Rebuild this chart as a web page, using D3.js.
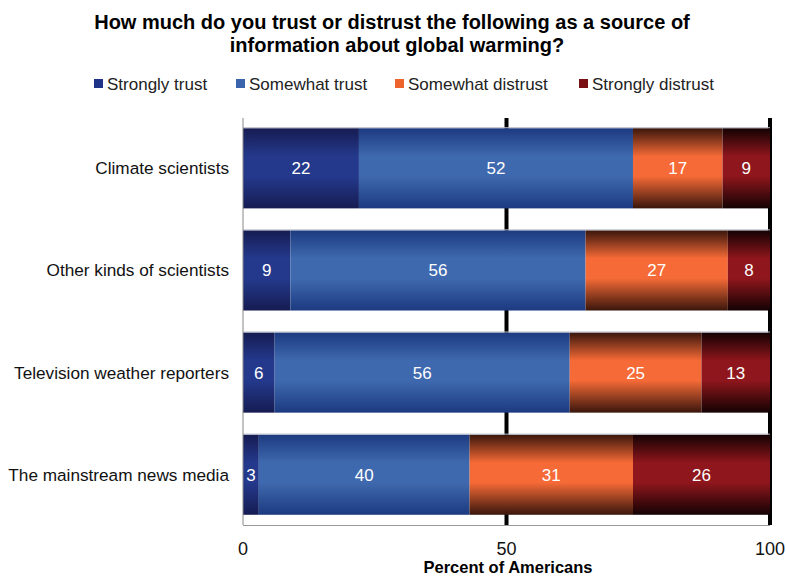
<!DOCTYPE html>
<html>
<head>
<meta charset="utf-8">
<script src="https://cdn.jsdelivr.net/npm/d3@7"></script>
<style>
  body { margin: 0; background: #fff; }
  svg { font-family: "Liberation Sans", Arial, sans-serif; }
</style>
</head>
<body>
<div id="chart-container"></div>
<script>
// chart data
const categories = ["Climate scientists", "Other kinds of scientists", "Television weather reporters", "The mainstream news media"];
const seriesNames = ["Strongly trust", "Somewhat trust", "Somewhat distrust", "Strongly distrust"];
const stronglyTrust = [22, 9, 6, 3];
const somewhatTrust = [52, 56, 56, 40];
const somewhatDistrust = [17, 27, 25, 31];
const stronglyDistrust = [9, 8, 13, 26];
const xTicks = [0, 50, 100];

const width = 786, height = 578;
const margin = { top: 118, right: 16, bottom: 53, left: 243 };
const innerW = 770 - margin.left;
const innerH = 525 - margin.top;

const svg = d3.select("#chart-container")
    .append("svg")
    .attr("width", width)
    .attr("height", height);

// gradients: dark edges, lighter centre
const grads = [
    { id: "g0", edge: "#161c52", mid: "#24398c" },
    { id: "g1", edge: "#1c3a80", mid: "#3f69ae" },
    { id: "g2", edge: "#3a160c", mid: "#f56a36" },
    { id: "g3", edge: "#140203", mid: "#8e161c" }
];
const defs = svg.append("defs");
grads.forEach(g => {
    const lg = defs.append("linearGradient")
        .attr("id", g.id).attr("x1", 0).attr("y1", 0).attr("x2", 0).attr("y2", 1);
    lg.append("stop").attr("offset", "0%").attr("stop-color", g.edge);
    lg.append("stop").attr("offset", "35%").attr("stop-color", g.mid);
    lg.append("stop").attr("offset", "60%").attr("stop-color", g.mid);
    lg.append("stop").attr("offset", "100%").attr("stop-color", g.edge);
});
const legendColors = ["#1f3388", "#3a64ab", "#ec642c", "#7a0f14"];

// title
svg.append("text")
    .attr("x", 392).attr("y", 29)
    .attr("text-anchor", "middle")
    .attr("font-size", 20).attr("font-weight", "bold")
    .text("How much do you trust or distrust the following as a source of");
svg.append("text")
    .attr("x", 397).attr("y", 52)
    .attr("text-anchor", "middle")
    .attr("font-size", 20).attr("font-weight", "bold")
    .text("information about global warming?");

// legend
const legendX = [94, 236, 395, 579];
const legend = svg.append("g");
seriesNames.forEach((name, i) => {
    legend.append("rect")
        .attr("x", legendX[i]).attr("y", 79)
        .attr("width", 9).attr("height", 9)
        .attr("fill", legendColors[i]);
    legend.append("text")
        .attr("x", legendX[i] + 13).attr("y", 90)
        .attr("font-size", 17).attr("fill", "#222")
        .text(name);
});

const g = svg.append("g")
    .attr("transform", `translate(${margin.left},${margin.top})`);

const x = d3.scaleLinear().domain([0, 100]).range([0, innerW]);
const y = d3.scaleBand().domain(categories).range([0, innerH]).paddingInner(0.215).paddingOuter(0.1);

// black gridlines at 50 and 100 (behind bars)
g.append("g").selectAll("line")
    .data([50, 100])
    .join("line")
    .attr("x1", d => x(d)).attr("x2", d => x(d))
    .attr("y1", 0).attr("y2", innerH)
    .attr("stroke", "#000").attr("stroke-width", 4);

// stack the series
const rows = categories.map((c, i) => ({
    category: c,
    "Strongly trust": stronglyTrust[i],
    "Somewhat trust": somewhatTrust[i],
    "Somewhat distrust": somewhatDistrust[i],
    "Strongly distrust": stronglyDistrust[i]
}));
const stacked = d3.stack().keys(seriesNames)(rows);

// bars
stacked.forEach((layer, li) => {
    g.append("g").selectAll("rect")
        .data(layer)
        .join("rect")
        .attr("x", d => x(d[0]))
        .attr("y", d => y(d.data.category))
        .attr("width", d => x(d[1]) - x(d[0]))
        .attr("height", y.bandwidth())
        .attr("fill", `url(#${grads[li].id})`);
});

// thin light line above each bar
g.append("g").selectAll("line")
    .data(categories)
    .join("line")
    .attr("x1", 0).attr("x2", x(100))
    .attr("y1", d => y(d) - 0.5).attr("y2", d => y(d) - 0.5)
    .attr("stroke", "#b8bcc8").attr("stroke-width", 1);

// value labels
stacked.forEach(layer => {
    g.append("g").selectAll("text")
        .data(layer)
        .join("text")
        .attr("x", d => (x(d[0]) + x(d[1])) / 2)
        .attr("y", d => y(d.data.category) + y.bandwidth() / 2 + 6)
        .attr("text-anchor", "middle")
        .attr("font-size", 17)
        .attr("fill", "#fff")
        .text(d => d[1] - d[0]);
});

// left axis line and bottom line
g.append("line")
    .attr("x1", 0).attr("x2", 0).attr("y1", 0).attr("y2", innerH)
    .attr("stroke", "#888").attr("stroke-width", 1);
g.append("line")
    .attr("x1", 0).attr("x2", x(100)).attr("y1", innerH + 0.5).attr("y2", innerH + 0.5)
    .attr("stroke", "#999").attr("stroke-width", 1);

// category labels
g.append("g").selectAll("text")
    .data(categories)
    .join("text")
    .attr("x", -14)
    .attr("y", d => y(d) + y.bandwidth() / 2 + 6)
    .attr("text-anchor", "end")
    .attr("font-size", 17.2)
    .attr("fill", "#111")
    .text(d => d);

// x tick labels
g.append("g").selectAll("text")
    .data(xTicks)
    .join("text")
    .attr("x", d => x(d))
    .attr("y", innerH + 30)
    .attr("text-anchor", "middle")
    .attr("font-size", 18)
    .attr("fill", "#111")
    .text(d => d);

// axis title
svg.append("text")
    .attr("x", 508).attr("y", 573)
    .attr("text-anchor", "middle")
    .attr("font-size", 16.5).attr("font-weight", "bold")
    .text("Percent of Americans");
</script>
</body>
</html>
